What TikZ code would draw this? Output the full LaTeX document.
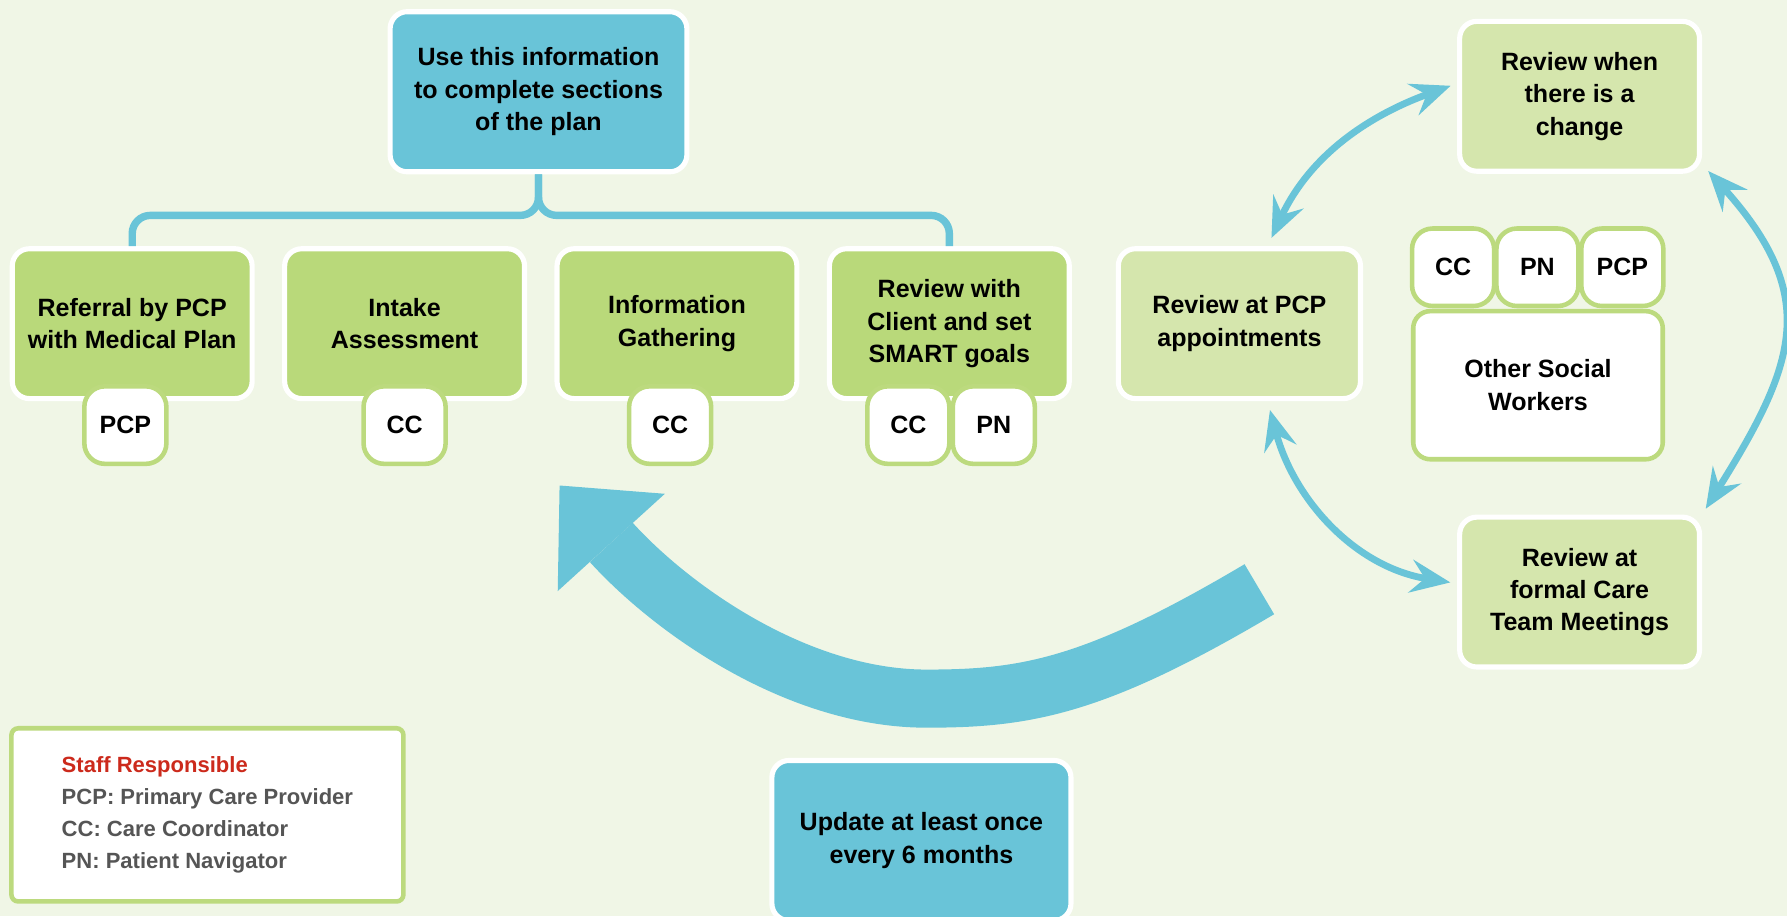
\documentclass[tikz,border=0pt]{standalone}
\usepackage{fontspec}
\setmainfont{Liberation Sans}
\usepackage{xcolor}
\usepackage{tikz}
\usetikzlibrary{arrows.meta}

\definecolor{bgcol}{RGB}{240,246,230}
\definecolor{planblue}{RGB}{105,196,216}
\definecolor{stepgreen}{RGB}{185,217,122}
\definecolor{reviewgreen}{RGB}{213,230,173}
\definecolor{tagline}{RGB}{188,218,126}
\definecolor{staffred}{RGB}{204,42,28}
\definecolor{staffgrey}{RGB}{85,85,85}

\tikzset{
  every node/.style={font=\bfseries\fontsize{12.5}{16.2}\selectfont, align=center},
  bluebox/.style={draw=white, line width=0.09cm, fill=planblue, rounded corners=0.3cm, minimum width=5.21cm, minimum height=2.81cm},
  stepbox/.style={draw=white, line width=0.09cm, fill=stepgreen, rounded corners=0.3cm, minimum width=4.21cm, minimum height=2.63cm},
  reviewbox/.style={stepbox, fill=reviewgreen},
  stafftag/.style={draw=tagline, line width=0.08cm, fill=white, rounded corners=0.36cm, minimum width=1.44cm, minimum height=1.36cm},
  teambox/.style={draw=tagline, line width=0.08cm, fill=white, rounded corners=0.3cm, minimum width=4.38cm, minimum height=2.6cm},
  legend/.style={draw=tagline, line width=0.08cm, fill=white, rounded corners=0.12cm, minimum width=6.88cm, minimum height=3.04cm, align=left, text=staffgrey, font=\bfseries\fontsize{11}{15.9}\selectfont},
  bracket/.style={draw=planblue, line width=0.13cm, rounded corners=0.32cm},
  reviewarrow/.style={draw=planblue, line width=0.12cm, >={Stealth[length=0.7cm,width=0.58cm,inset=0.25cm]}, <->, shorten <=0.16cm, shorten >=0.12cm},
  bigarrow/.style={draw=planblue, line width=1.02cm, -{Triangle[length=1.35cm,width=2.54cm,line width=0pt]}}
}

\begin{document}
\begin{tikzpicture}[x=0.02cm, y=-0.02cm]
\useasboundingbox (0,0) rectangle (1568,804);
\clip (0,0) rectangle (1568,804);
\fill[bgcol] (0,0) rectangle (1568,804);

% Plan box
\node[bluebox] (plan) at (472.5,80.5) {Use this information\\to complete sections\\of the plan};

% Steps
\node[stepbox] (referral) at (116,284) {Referral by PCP\\with Medical Plan};
\node[stepbox] (intake) at (355,284) {Intake\\Assessment};
\node[stepbox] (gathering) at (594,284) {Information\\Gathering};
\node[stepbox] (client) at (833,284) {Review with\\Client and set\\SMART goals};

% Bracket from plan to steps
\draw[bracket] (plan.south) -- ++(0,36) -| (referral.north);
\draw[bracket] (plan.south) -- ++(0,36) -| (client.north);

% Staff on each step
\node[stafftag] (referralpcp) at (110,373) {PCP};
\node[stafftag] (intakecc) at (355,373) {CC};
\node[stafftag] (gatheringcc) at (588,373) {CC};
\node[stafftag] (clientcc) at (797,373) {CC};
\node[stafftag] (clientpn) at (872,373) {PN};

% Reviews
\node[reviewbox, minimum width=4.25cm] (pcpreview) at (1087.5,284) {Review at PCP\\appointments};
\node[reviewbox] (changereview) at (1386,84.5) {Review when\\there is a\\change};
\node[reviewbox] (teamreview) at (1386,519.5) {Review at\\formal Care\\Team Meetings};

% Care team
\node[teambox] (social) at (1349.5,338) {Other Social\\Workers};
\node[stafftag] (teamcc) at (1275,234.5) {CC};
\node[stafftag] (teampn) at (1349,234.5) {PN};
\node[stafftag] (teampcp) at (1423.5,234.5) {PCP};

% Review arrows
\draw[reviewarrow] (pcpreview.70) to[out=65, in=200] (changereview.174);
\draw[reviewarrow] (pcpreview.-70) to[out=-75, in=171] (teamreview.176);
\draw[reviewarrow] (changereview.-29) to[out=-48, in=58, looseness=1.3] (teamreview.north east);

% Update loop
\node[bluebox, minimum width=5.25cm] (update) at (808.5,737.5) {Update at least once\\every 6 months};
\coordinate (loopend) at (1105,517);
\coordinate (looptip) at (491,426);
\draw[bigarrow] (loopend) .. controls (960,603) and (900,613) .. (813,613) .. controls (700,613) and (590,535) .. (looptip);

% Legend
\node[legend] (staff) at (182,715) {{\color{staffred}Staff Responsible}\\PCP: Primary Care Provider\\CC: Care Coordinator\\PN: Patient Navigator};
\end{tikzpicture}
\end{document}
